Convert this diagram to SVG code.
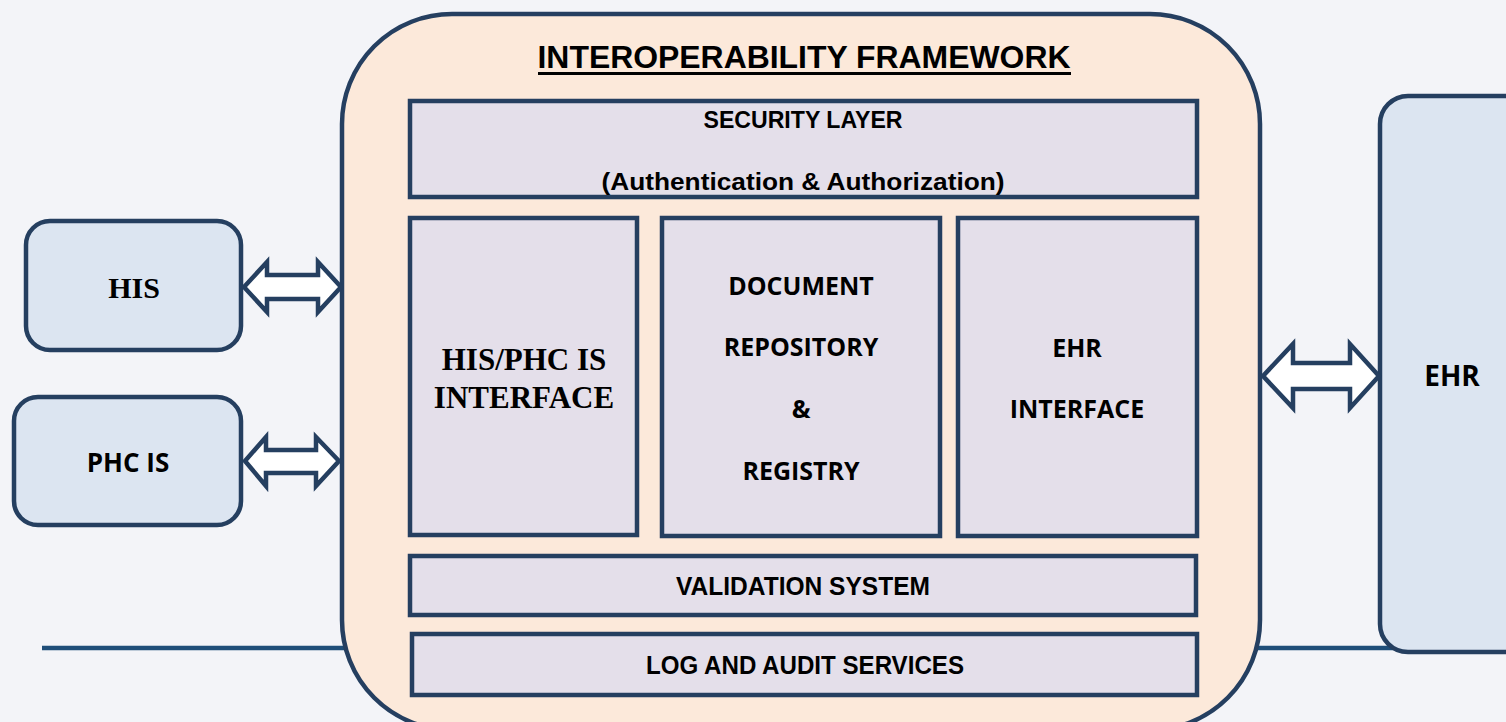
<svg xmlns="http://www.w3.org/2000/svg" width="1506" height="722" viewBox="0 0 1506 722">
<style>
.bg{fill:#F3F4F8}
.frame{fill:#FCE9DA;stroke:#253F60;stroke-width:4.5}
.inner{fill:#E4DFEA;stroke:#253F60;stroke-width:4.5}
.ext{fill:#DCE5F1;stroke:#253F60;stroke-width:4.5}
.arrow{fill:#FFFFFF;stroke:#253F60;stroke-width:4.5;stroke-linejoin:miter}
.base{stroke:#1F4E79;stroke-width:4.5;fill:none}
.narrow{font-family:"Liberation Sans",Arial,sans-serif;font-weight:700;fill:#000;text-anchor:middle}
.sans{font-family:"Open Sans","Noto Sans",sans-serif;font-weight:700;fill:#000;text-anchor:middle}
.serif{font-family:"Liberation Serif","Times New Roman",serif;font-weight:700;fill:#000;text-anchor:middle}
</style>
<rect class="bg" x="0" y="0" width="1506" height="722"/>
<g id="connectors">
<line class="base" x1="42" y1="648" x2="1400" y2="648"/>
</g>
<g id="framework">
<rect class="frame" x="342" y="14" width="918" height="716" rx="110" ry="110"/>
<text class="narrow" x="804" y="68" font-size="31" textLength="533" lengthAdjust="spacingAndGlyphs">INTEROPERABILITY FRAMEWORK</text>
<line x1="538" y1="73.5" x2="1071" y2="73.5" stroke="#000" stroke-width="3"/>
</g>
<g id="security-layer">
<rect class="inner" x="410" y="101" width="787" height="96"/>
<text class="narrow" x="803" y="128" font-size="23" textLength="199" lengthAdjust="spacingAndGlyphs">SECURITY LAYER</text>
<text class="narrow" x="803" y="190" font-size="23" textLength="403" lengthAdjust="spacingAndGlyphs">(Authentication &amp; Authorization)</text>
</g>
<g id="his-phc-interface">
<rect class="inner" x="410" y="218" width="227" height="317"/>
<text class="serif" x="524" y="370" font-size="31">HIS/PHC IS</text>
<text class="serif" x="524" y="408" font-size="31">INTERFACE</text>
</g>
<g id="document-repository">
<rect class="inner" x="662" y="218" width="278" height="318"/>
<text class="sans" x="801" y="295" font-size="25">DOCUMENT</text>
<text class="sans" x="801" y="356" font-size="25">REPOSITORY</text>
<text class="sans" x="801" y="418" font-size="25">&amp;</text>
<text class="sans" x="801" y="480" font-size="25">REGISTRY</text>
</g>
<g id="ehr-interface">
<rect class="inner" x="958" y="218" width="239" height="318"/>
<text class="sans" x="1077" y="357" font-size="25">EHR</text>
<text class="sans" x="1077" y="418" font-size="25">INTERFACE</text>
</g>
<g id="validation-system">
<rect class="inner" x="410" y="556" width="786" height="59"/>
<text class="narrow" x="803" y="595" font-size="25" textLength="254" lengthAdjust="spacingAndGlyphs">VALIDATION SYSTEM</text>
</g>
<g id="log-audit">
<rect class="inner" x="412" y="634" width="785" height="61"/>
<text class="narrow" x="805" y="674" font-size="25" textLength="318" lengthAdjust="spacingAndGlyphs">LOG AND AUDIT SERVICES</text>
</g>
<g id="his">
<rect class="ext" x="26" y="221" width="215" height="129" rx="24" ry="24"/>
<text class="serif" x="134" y="298" font-size="30">HIS</text>
</g>
<g id="phc-is">
<rect class="ext" x="14" y="397" width="227" height="128" rx="24" ry="24"/>
<text class="sans" x="128" y="472" font-size="26">PHC IS</text>
</g>
<g id="ehr">
<rect class="ext" x="1380" y="96" width="160" height="556" rx="28" ry="28"/>
<text class="sans" x="1452" y="386" font-size="28">EHR</text>
</g>
<g id="arrows">
<polygon class="arrow" points="244,287 267,262 267,275 318,275 318,262 341,287 318,312 318,299 267,299 267,312"/>
<polygon class="arrow" points="245,461 266,437 266,450 316,450 316,437 339,461 316,486 316,473 266,473 266,486"/>
<polygon class="arrow" points="1263,376 1293,344 1293,363 1350,363 1350,344 1379,376 1350,408 1350,389 1293,389 1293,408"/>
</g>
</svg>
